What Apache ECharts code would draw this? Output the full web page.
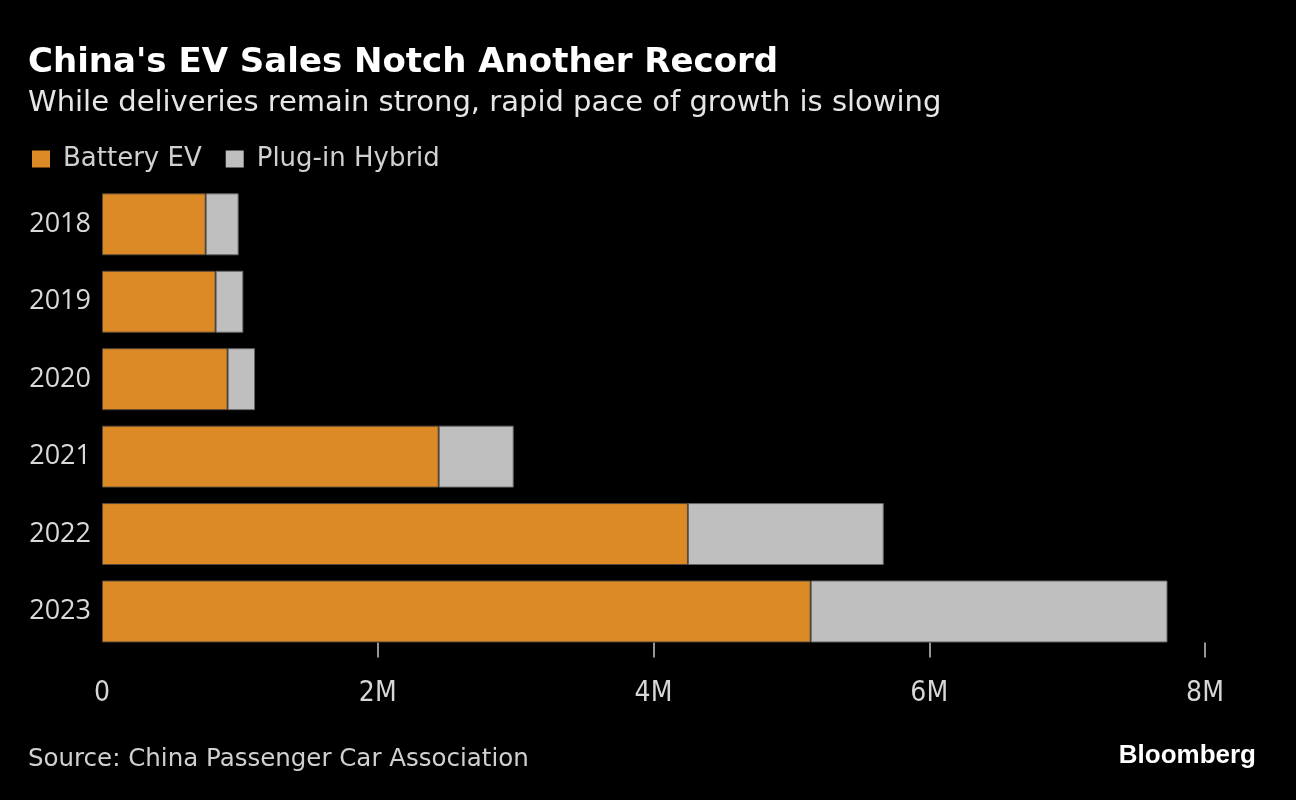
<!DOCTYPE html>
<html>
<head>
<meta charset="utf-8">
<script src="https://cdn.jsdelivr.net/npm/echarts@6/dist/echarts.min.js"></script>
<style>
html,body{margin:0;padding:0;background:#000;}
#chart{width:1296px;height:800px;}
</style>
</head>
<body>
<div id="chart"></div>
<script>
const years = ['2018', '2019', '2020', '2021', '2022', '2023'];
const batteryEV = [752000, 824000, 911000, 2442000, 4250000, 5140000];
const plugInHybrid = [239000, 201000, 199000, 544000, 1420000, 2588000];
const xTicks = [0, 2000000, 4000000, 6000000, 8000000];
const tickMarks = [2000000, 4000000, 6000000, 8000000];

const chart = echarts.init(document.getElementById('chart'), null, {renderer: 'canvas'});
const option = {
  backgroundColor: '#000000',
  animation: false,
  title: [
    {text: "China's EV Sales Notch Another Record", left: 28, top: 46, padding: 0,
     textStyle: {fontFamily: 'DejaVu Sans', fontWeight: 'bold', fontSize: 34, color: '#ffffff', lineHeight: 34}},
    {text: 'While deliveries remain strong, rapid pace of growth is slowing', left: 28, top: 89, padding: 0,
     textStyle: {fontFamily: 'DejaVu Sans', fontWeight: 'normal', fontSize: 29, color: '#e6e6e6', lineHeight: 29}},
    {text: 'Source: China Passenger Car Association', left: 28, top: 747, padding: 0,
     textStyle: {fontFamily: 'DejaVu Sans', fontWeight: 'normal', fontSize: 24.5, color: '#d0d0d0', lineHeight: 25}},
    {text: 'Bloomberg', right: 40, top: 743, padding: 0,
     textStyle: {fontFamily: 'Liberation Sans', fontWeight: 'bold', fontSize: 26, color: '#ffffff', lineHeight: 26}}
  ],
  legend: {
    left: 32, top: 146, padding: 0, icon: 'rect', itemWidth: 18, itemHeight: 17, itemGap: 24,
    itemStyle: {borderWidth: 0},
    textStyle: {fontFamily: 'DejaVu Sans', fontSize: 26, color: '#d0d0d0', padding: [0, 0, 0, 8]},
    data: ['Battery EV', 'Plug-in Hybrid']
  },
  grid: {left: 102, right: 91, top: 185.6, bottom: 149.8, containLabel: false},
  xAxis: {
    type: 'value', min: 0, max: 8000000, interval: 2000000, offset: -7.7,
    axisLine: {show: false},
    splitLine: {show: false},
    axisTick: {show: true, length: 15, lineStyle: {color: '#c8c8c8', width: 1.5}, customValues: tickMarks},
    axisLabel: {
      customValues: xTicks,
      margin: 37, fontFamily: "'Liberation Sans Narrow', 'DejaVu Sans Condensed', sans-serif", fontSize: 28, color: '#d6d6d6',
      formatter: v => v === 0 ? '0' : (v / 1000000) + 'M'
    }
  },
  yAxis: {
    type: 'category', data: years, inverse: true,
    axisLine: {show: false}, axisTick: {show: false},
    axisLabel: {margin: 11, fontFamily: "'Open Sans', 'Noto Sans', sans-serif", fontSize: 27, color: '#d9d9d9'}
  },
  series: [
    {name: 'Battery EV', type: 'bar', stack: 'total', data: batteryEV, barCategoryGap: '20%',
     itemStyle: {color: '#DC8A26', borderColor: '#5a4a38', borderWidth: 1}},
    {name: 'Plug-in Hybrid', type: 'bar', stack: 'total', data: plugInHybrid, barCategoryGap: '20%',
     itemStyle: {color: '#BFBFBF', borderColor: '#666666', borderWidth: 1}}
  ]
};
chart.setOption(option);
</script>
</body>
</html>
